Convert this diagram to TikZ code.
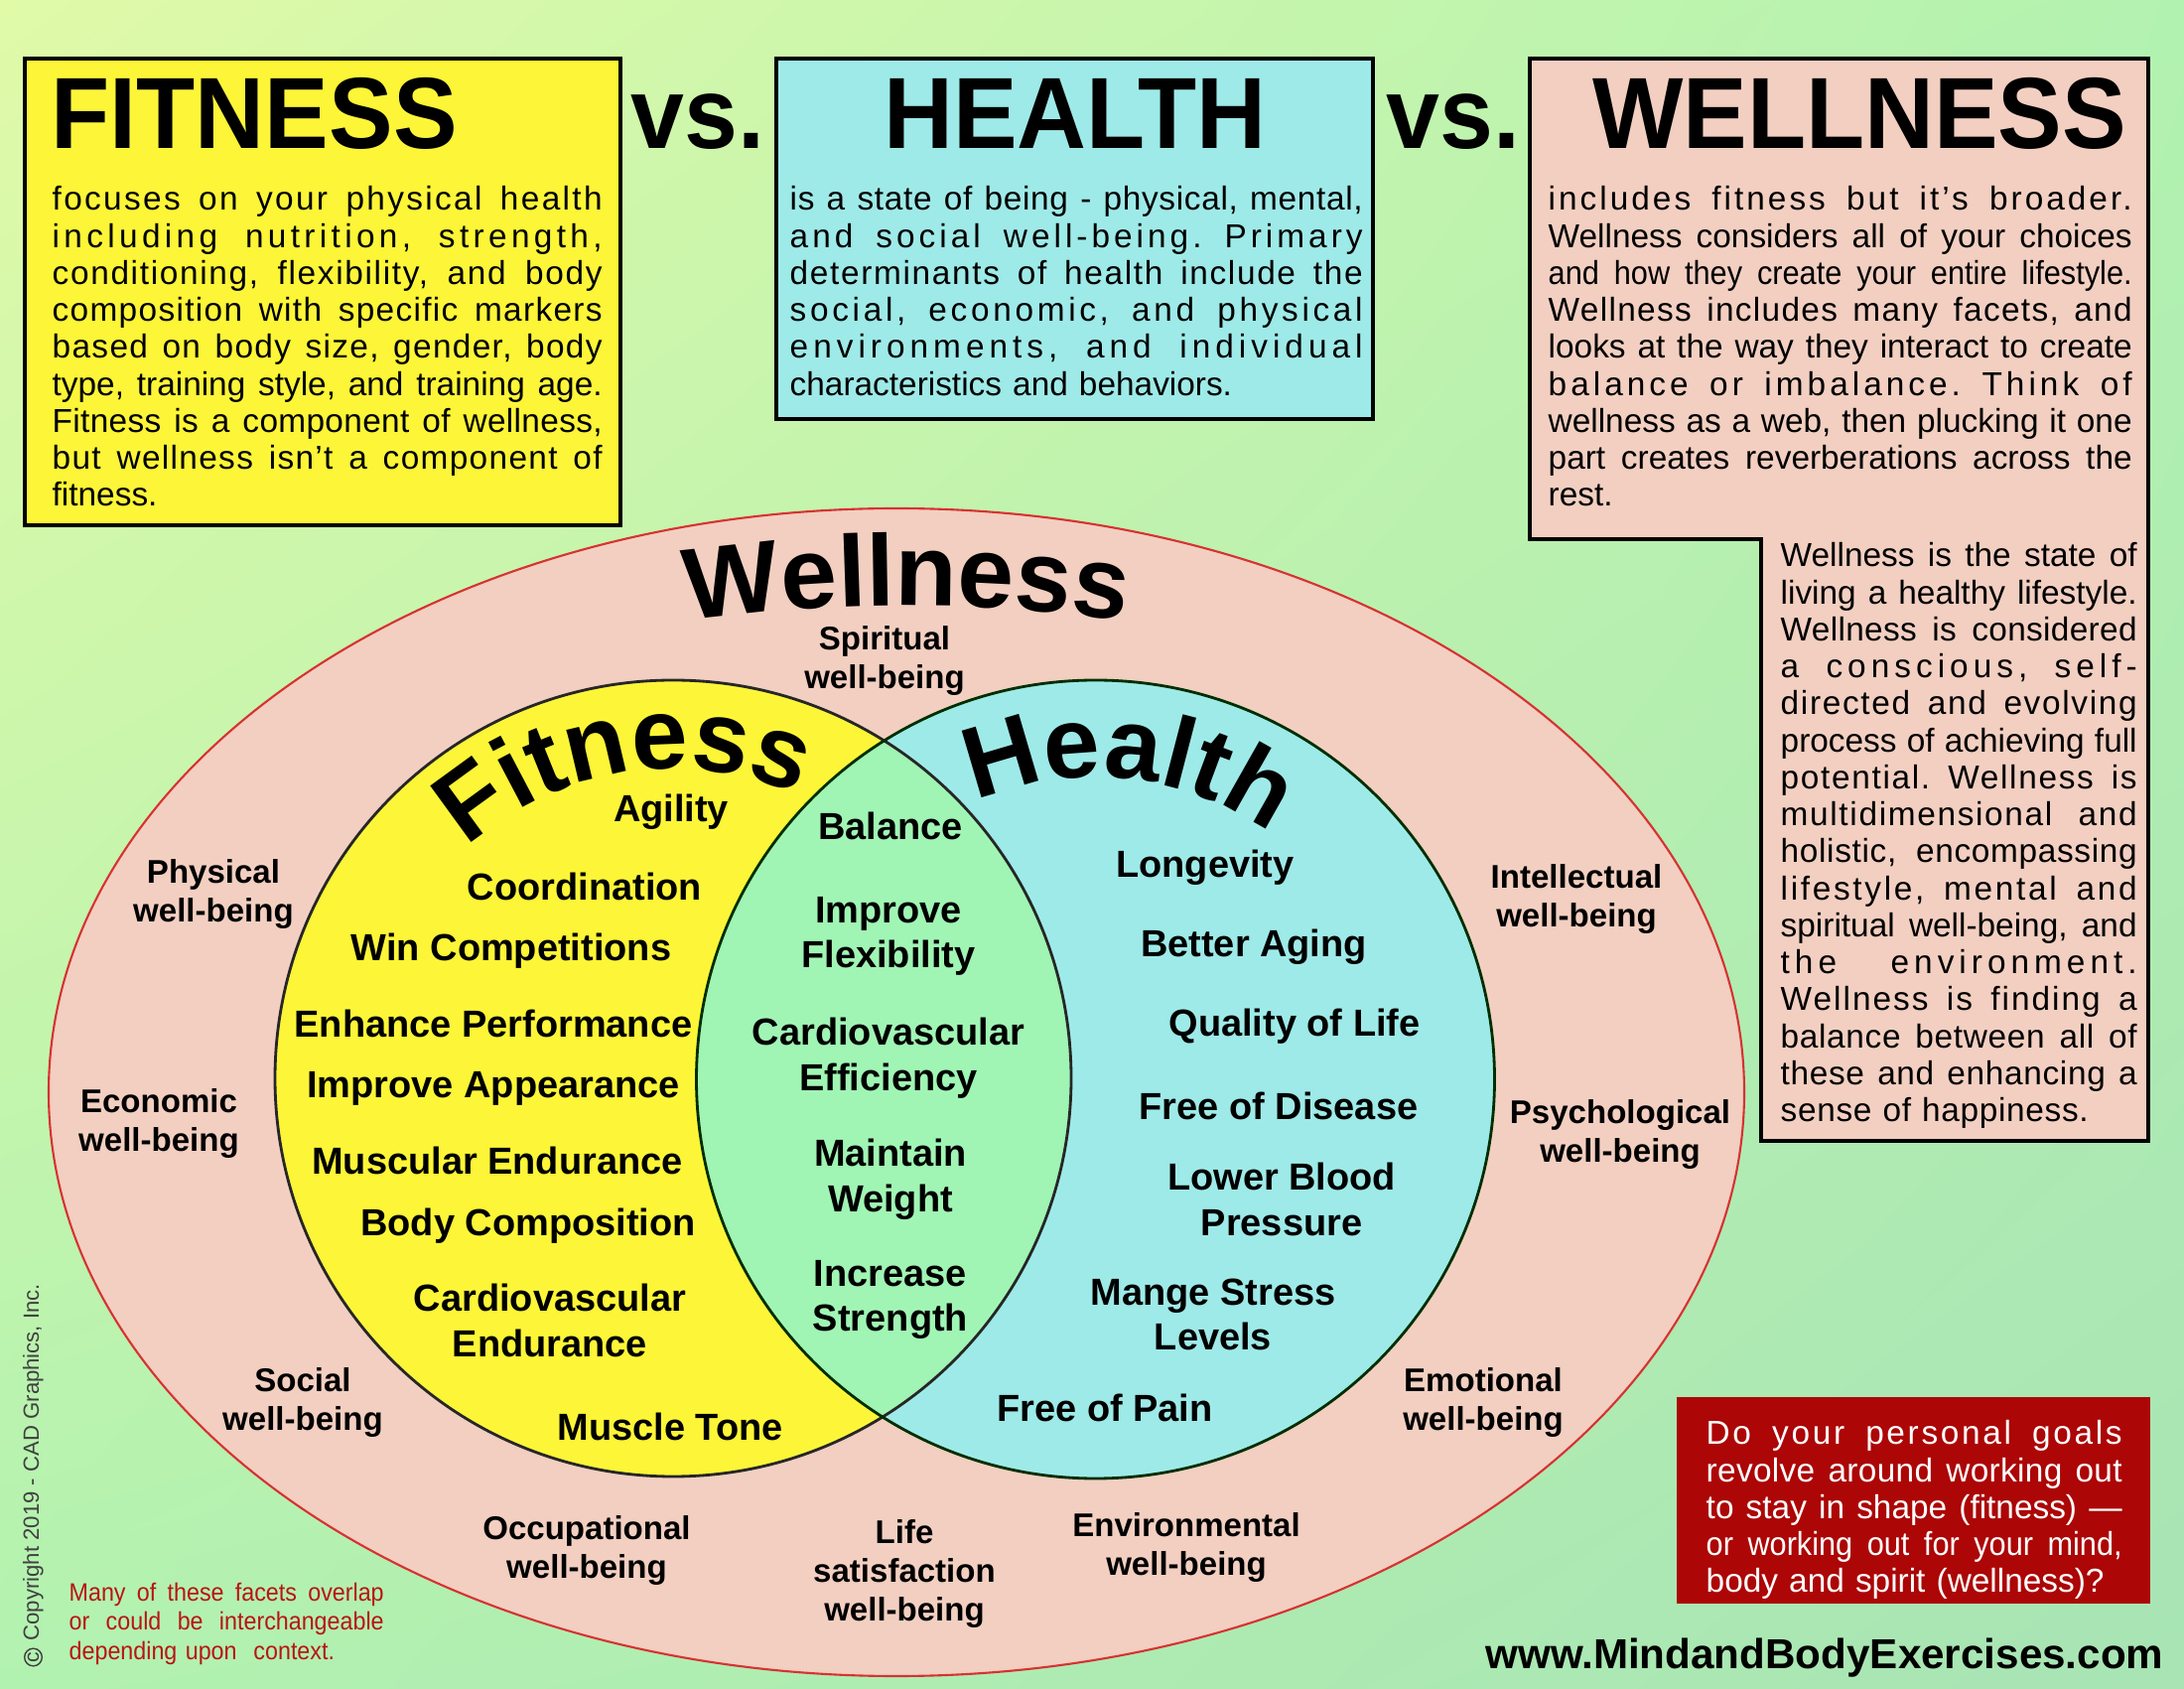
\documentclass[tikz,border=0pt]{standalone}
\usepackage{fontspec}
\setmainfont{Liberation Sans}
\newfontfamily\headfont[FakeStretch=0.95]{Liberation Sans}
\newfontfamily\narrowbody[FakeStretch=0.92]{Liberation Sans}
\usetikzlibrary{decorations.text, shadings}

\definecolor{fityellow}{RGB}{252,245,56}
\definecolor{healthcyan}{RGB}{158,234,232}
\definecolor{wellpink}{RGB}{242,207,193}
\definecolor{overlapgreen}{RGB}{160,245,180}
\definecolor{askred}{RGB}{172,6,6}
\definecolor{notered}{RGB}{185,20,20}
\definecolor{rimred}{RGB}{215,50,50}
\definecolor{bgyellow}{RGB}{224,250,168}
\definecolor{bggreen}{RGB}{178,242,176}
\definecolor{bgdeep}{RGB}{168,228,180}

\newcommand{\curvefont}{\fontsize{29}{30}\selectfont\bfseries}
\newcommand{\gaps}{\spaceskip=0.28em plus 1fil\xspaceskip=\spaceskip\relax}
% one text line stretched to the full width of its block
\newcommand{\fillline}[1]{\makebox[\linewidth][s]{\gaps #1}\\}
\newcommand{\wideline}[2][7]{\makebox[\linewidth][s]{\addfontfeatures{LetterSpace=#1}\gaps #2}\\}
\newcommand{\narrowline}[1]{\makebox[\linewidth][s]{\narrowbody\gaps #1}\\}

\begin{document}
\begin{tikzpicture}[
    panel/.style={draw=black, line width=1pt},
    heading/.style={font=\headfont\fontsize{29}{30}\selectfont\bfseries, anchor=base, inner sep=0pt},
    bodytext/.style={anchor=north west, inner sep=0pt, align=left, font=\fontsize{9.5}{10.6}\selectfont\frenchspacing},
    item/.style={font=\fontsize{10.8}{13}\selectfont\bfseries, align=center, inner sep=0pt},
    facet/.style={font=\fontsize{9.4}{11.1}\selectfont\bfseries, align=center, inner sep=0pt},
    curved/.style={decorate, decoration={text along path, text align=center, text={|\curvefont|#1}}}
  ]
    \useasboundingbox (0,0) rectangle (22,17);
    \shade[upper left=bgyellow, upper right=bggreen, lower left=bggreen, lower right=bgdeep] (0,0) rectangle (22,17);

    % Top boxes
    \draw[panel, fill=fityellow] (0.25,16.41) rectangle (6.25,11.71);
    \draw[panel, fill=healthcyan] (7.82,16.41) rectangle (13.83,12.78);
    \draw[panel, fill=wellpink] (15.41,16.41) -- (21.64,16.41) -- (21.64,5.51) -- (17.74,5.51) -- (17.74,11.57) -- (15.41,11.57) -- cycle;

    % Titles
    \node[heading, anchor=base west] (Title-fit) at (0.51,15.50) {FITNESS};
    \node[heading] (Vs-1) at (7.03,15.50) {vs.};
    \node[heading] (Title-health) at (10.83,15.50) {HEALTH};
    \node[heading] (Vs-2) at (14.64,15.50) {vs.};
    \node[heading] (Title-well) at (18.73,15.50) {WELLNESS};

    % Definitions
    \node[bodytext, text width=5.54cm] (Text-fit) at (0.52,15.13) {%
      \wideline[7]{focuses on your physical health}%
      \wideline[13]{including nutrition, strength,}%
      \wideline[5]{conditioning, flexibility, and body}%
      \wideline[4]{composition with specific markers}%
      \wideline[4]{based on body size, gender, body}%
      \fillline{type, training style, and training age.}%
      \wideline[1]{Fitness is a component of wellness,}%
      \wideline[4]{but wellness isn’t a component of}%
      fitness.};
    \node[bodytext, text width=5.77cm] (Text-health) at (7.95,15.13) {%
      \wideline[2]{is a state of being - physical, mental,}%
      \wideline[12]{and social well-being. Primary}%
      \wideline[5]{determinants of health include the}%
      \wideline[11]{social, economic, and physical}%
      \wideline[15]{environments, and individual}%
      characteristics and behaviors.};
    \node[bodytext, text width=5.88cm] (Text-well) at (15.59,15.13) {%
      \wideline[9]{includes fitness but it’s broader.}%
      \fillline{Wellness considers all of your choices}%
      \narrowline{and how they create your entire lifestyle.}%
      \wideline[4]{Wellness includes many facets, and}%
      \fillline{looks at the way they interact to create}%
      \wideline[12]{balance or imbalance. Think of}%
      \fillline{wellness as a web, then plucking it one}%
      \fillline{part creates reverberations across the}%
      rest.};
    \node[bodytext, text width=3.59cm] (Text-well2) at (17.93,11.54) {%
      \fillline{Wellness is the state of}%
      \fillline{living a healthy lifestyle.}%
      \wideline[1]{Wellness is considered}%
      \wideline[15]{a conscious, self-}%
      \wideline[5]{directed and evolving}%
      \fillline{process of achieving full}%
      \wideline[5]{potential. Wellness is}%
      \wideline[5]{multidimensional and}%
      \wideline[2]{holistic, encompassing}%
      \wideline[8]{lifestyle, mental and}%
      \fillline{spiritual well-being, and}%
      \wideline[15]{the environment.}%
      \wideline[6]{Wellness is finding a}%
      \wideline[2]{balance between all of}%
      \wideline[2]{these and enhancing a}%
      {\addfontfeatures{LetterSpace=2}sense of happiness.}};

    % Venn diagram
    \draw[rimred, line width=0.6pt, fill=wellpink] (9.03,6.0) ellipse [x radius=8.54, y radius=5.88];
    \fill[fityellow] (6.78,6.14) circle (4.01);
    \fill[healthcyan] (11.035,6.13) circle (4.02);
    \begin{scope}
      \clip (6.78,6.14) circle (4.01);
      \fill[overlapgreen] (11.035,6.13) circle (4.02);
    \end{scope}
    \draw[black!85, line width=0.8pt] (6.78,6.14) circle (4.01);
    \draw[black!70!green!60!black, line width=0.8pt] (11.035,6.13) circle (4.02);

    % Curved titles
    \path[curved=Wellness, shift={(9.13,-5.0)}] (100:15.9) arc[start angle=100, end angle=80, radius=15.9];
    \path[curved=Fitness, shift={(6.78,6.14)}] (152:3.12) arc[start angle=152, end angle=46, radius=3.12];
    \path[curved=Health, shift={(11.035,6.13)}] (138:3.04) arc[start angle=138, end angle=30, radius=3.04];

    % Fitness
    \foreach \txt/\x/\y [count=\i] in {Agility/6.76/8.82, Coordination/5.89/8.07, Win Competitions/5.15/7.42,
        Enhance Performance/4.97/6.69, Improve Appearance/4.97/6.04, Muscular Endurance/5.01/5.31,
        Body Composition/5.32/4.65, {Cardiovascular\\Endurance}/5.54/3.70, Muscle Tone/6.75/2.63}
    {
        \node[item] (Fit-\i) at (\x,\y) {\txt};
    }

    % Both
    \foreach \txt/\x/\y [count=\i] in {Balance/8.97/8.68, {Improve\\Flexibility}/8.95/7.57,
        {Cardiovascular\\Efficiency}/8.95/6.34, {Maintain\\Weight}/8.97/5.12, {Increase\\Strength}/8.97/3.91}
    {
        \node[item] (Both-\i) at (\x,\y) {\txt};
    }

    % Health
    \foreach \txt/\x/\y [count=\i] in {Longevity/12.14/8.26, Better Aging/12.63/7.46, Quality of Life/13.04/6.66,
        Free of Disease/12.88/5.86, {Lower Blood\\Pressure}/12.91/4.92, {Mange Stress\\Levels}/12.22/3.76,
        Free of Pain/11.13/2.82}
    {
        \node[item] (Health-\i) at (\x,\y) {\txt};
    }

    % Facets of wellness
    \foreach \txt/\x/\y [count=\i] in {{Spiritual\\well-being}/8.91/10.34, {Physical\\well-being}/2.15/7.99,
        {Economic\\well-being}/1.60/5.68, {Social\\well-being}/3.05/2.87, {Occupational\\well-being}/5.91/1.38,
        {Life\\satisfaction\\well-being}/9.11/1.15, {Environmental\\well-being}/11.95/1.41,
        {Emotional\\well-being}/14.94/2.87, {Psychological\\well-being}/16.32/5.57,
        {Intellectual\\well-being}/15.88/7.94}
    {
        \node[facet] (Facet-\i) at (\x,\y) {\txt};
    }

    % Question
    \fill[askred] (16.89,0.85) rectangle (21.66,2.93);
    \node[bodytext, text width=4.19cm, text=white] (Ask) at (17.18,2.70) {%
      \wideline[8]{Do your personal goals}%
      \wideline[1]{revolve around working out}%
      \fillline{to stay in shape (fitness) —}%
      \narrowline{or working out for your mind,}%
      body and spirit (wellness)?};

    \node[font=\fontsize{12}{14}\selectfont\bfseries, anchor=base east, inner sep=0pt] (Url) at (21.80,0.20) {www.MindandBodyExercises.com};

    % Notes
    \node[bodytext, text width=3.17cm, text=notered, font=\narrowbody\fontsize{7.2}{8.5}\selectfont] (Note) at (0.69,1.07) {%
      \fillline{Many of these facets overlap}%
      \fillline{or could be interchangeable}%
      depending upon\ \ context.};
    \node[circle, draw=black!75, line width=0.4pt, inner sep=0.2pt, rotate=90, text=black!75, font=\fontsize{6}{6}\selectfont] (Copy-mark) at (0.335,0.31) {c};
    \node[rotate=90, anchor=west, font=\fontsize{6.3}{7}\selectfont, text=black!75, inner sep=0pt] (Copy) at (0.335,0.47) {Copyright 2019 - CAD Graphics, Inc.};
\end{tikzpicture}
\end{document}
